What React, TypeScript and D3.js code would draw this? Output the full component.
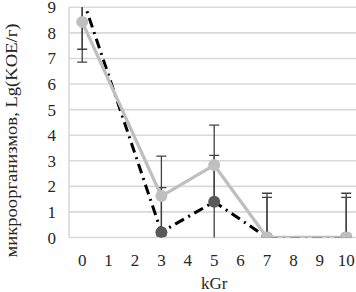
import React from "react";
import * as d3 from "d3";

const categories = ["0", "1", "2", "3", "4", "5", "6", "7", "8", "9", "10"];
const yTicks = [0, 1, 2, 3, 4, 5, 6, 7, 8, 9];

const grayX = ["0", "3", "5", "7", "10"];
const grayValues = [8.43, 1.62, 2.83, 0, 0];
const grayErrors = [1.07, 1.56, 1.56, 1.73, 1.73];

const darkX = ["0", "3", "5", "7", "10"];
const darkValues = [9.4, 0.21, 1.4, 0, 0];
const darkErrors = [2.54, 1.74, 1.81, 1.57, 1.57];

const yTitle = "микроорганизмов, Lg(KOE/г)";
const xTitle = "kGr";

export default function App() {
  const W = 356, H = 292;
  const left = 69, right = 359.4, top = 7.3, bottom = 237.5;
  const x = d3.scaleBand().domain(categories).range([left, right]);
  const cx = (c: string) => (x(c) as number) + x.bandwidth() / 2;
  const y = d3.scaleLinear().domain([0, 9]).range([bottom, top]);

  const gray = grayX.map((c, i) => ({ c, v: grayValues[i], e: grayErrors[i] }));
  const dark = darkX.map((c, i) => ({ c, v: darkValues[i], e: darkErrors[i] }));
  const line = d3.line<{ c: string; v: number }>().x(d => cx(d.c)).y(d => y(d.v));
  const textStyle = { fontFamily: '"Liberation Serif", "Times New Roman", serif' };
  const capW = 5;
  const errBars = (data: typeof gray, key: string) =>
    data.map((d, i) => {
      const X = cx(d.c);
      const y1 = y(d.v + d.e), y2 = y(d.v - d.e);
      return (
        <g key={key + i} stroke="#404040" strokeWidth={1.3}>
          <line x1={X} x2={X} y1={y1} y2={y2} />
          <line x1={X - capW} x2={X + capW} y1={y1} y2={y1} />
          <line x1={X - capW} x2={X + capW} y1={y2} y2={y2} />
        </g>
      );
    });

  return (
    <svg width={W} height={H} style={{ position: "absolute", left: 0, top: 0, background: "#fff" }}>
      <defs>
        <clipPath id="plot">
          <rect x={left - 8} y={top} width={right - left + 16} height={bottom - top} />
        </clipPath>
      </defs>
      {yTicks.map(t => (
        <line key={"g" + t} x1={left} x2={W} y1={y(t)} y2={y(t)} stroke="#d9d9d9" strokeWidth={1.6} />
      ))}
      <line x1={left} x2={left} y1={top} y2={bottom} stroke="#d9d9d9" strokeWidth={1.6} />
      <g style={textStyle} fontSize={17} fill="#262626">
        {yTicks.map(t => (
          <text key={"yt" + t} x={56} y={y(t) + 6} textAnchor="end">
            {t}
          </text>
        ))}
        {categories.map(c => (
          <text key={"xt" + c} x={cx(c)} y={266} textAnchor="middle">
            {c}
          </text>
        ))}
        <text x={cx("5")} y={289} textAnchor="middle">
          {xTitle}
        </text>
        <text
          transform={`translate(17,140.5) rotate(-90)`}
          textAnchor="middle"
          fontSize={17.5}
          textLength={234}
          lengthAdjust="spacingAndGlyphs"
        >
          {yTitle}
        </text>
      </g>
      <g clipPath="url(#plot)">
        {errBars(dark, "de")}
        {errBars(gray, "ge")}
        <path d={line(dark) || ""} fill="none" stroke="#000" strokeWidth={3} strokeDasharray="10,5,2,5" />
        {dark.map((d, i) => (
          <circle key={"dm" + i} cx={cx(d.c)} cy={y(d.v)} r={6} fill="#595959" />
        ))}
        <path d={line(gray) || ""} fill="none" stroke="#bfbfbf" strokeWidth={3.3} />
        {gray.map((d, i) => (
          <circle key={"gm" + i} cx={cx(d.c)} cy={y(d.v)} r={6} fill="#bfbfbf" />
        ))}
      </g>
    </svg>
  );
}
